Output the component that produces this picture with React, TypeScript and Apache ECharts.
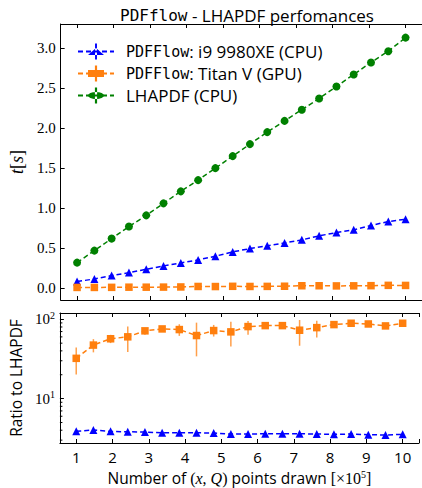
import React, { useEffect, useRef } from 'react';
import * as echarts from 'echarts';

// x positions (units of 1e5 points)
const xPoints = [1, 1.4737, 1.9474, 2.4211, 2.8947, 3.3684, 3.8421, 4.3158, 4.7895, 5.2632, 5.7368, 6.2105, 6.6842, 7.1579, 7.6316, 8.1053, 8.5789, 9.0526, 9.5263, 10];

// top panel: time in seconds
const timeCPU = [0.083, 0.116, 0.158, 0.195, 0.237, 0.279, 0.316, 0.354, 0.4, 0.454, 0.495, 0.529, 0.566, 0.604, 0.654, 0.695, 0.729, 0.783, 0.833, 0.862];
const timeGPU = [0.01, 0.01, 0.011, 0.013, 0.013, 0.014, 0.016, 0.022, 0.021, 0.024, 0.022, 0.023, 0.025, 0.031, 0.031, 0.029, 0.03, 0.032, 0.036, 0.035];
const timeLHAPDF = [0.32, 0.47, 0.62, 0.77, 0.91, 1.06, 1.21, 1.35, 1.5, 1.65, 1.8, 1.95, 2.09, 2.23, 2.37, 2.52, 2.67, 2.82, 2.96, 3.13];

// bottom panel: ratio to LHAPDF
const ratioCPU = [3.87, 4.02, 3.87, 3.82, 3.79, 3.72, 3.72, 3.72, 3.68, 3.58, 3.58, 3.61, 3.61, 3.61, 3.58, 3.55, 3.58, 3.51, 3.48, 3.55];
const ratioGPU = [32.2, 47.3, 56.8, 60.1, 71.5, 75.6, 74.2, 62.4, 72.1, 69.4, 80.9, 83.2, 83.2, 72.8, 78.5, 85.7, 89.1, 87.3, 82.5, 89.1];
const ratioGPULow = [20.1, 38.3, 50.1, 38.6, 63.7, 70, 61.8, 34.1, 60.6, 45.4, 63.7, 77.2, 77, 46.4, 58.9, 79, 81, 81, 77, 83];
const ratioGPUHigh = [44.2, 56.2, 63.7, 80.9, 77.2, 78, 86.6, 90.7, 84.9, 93.3, 95.2, 87.3, 89, 98, 96, 89, 96, 93, 87, 95];

const logMinorTicks = [3, 4, 5, 6, 7, 8, 9, 20, 30, 40, 50, 60, 70, 80, 90];

const legendNames = ['cpu', 'gpu', 'lhapdf'];
const legendLabels: Record<string, string> = {
  cpu: '{m|PDFFlow}{s|: i9 9980XE (CPU)}',
  gpu: '{m|PDFFlow}{s|: Titan V (GPU)}',
  lhapdf: '{s|LHAPDF (CPU)}',
};

const X_MIN = 0.55;
const X_MAX = 10.45;
const Y_MIN = -0.147;
const Y_MAX = 3.3;
const R_MIN = 2.76;
const R_MAX = 120;

const BLUE = '#0000ff';
const ORANGE = '#ff7f0e';
const GREEN = '#008000';

const SANS = "'Open Sans', 'DejaVu Sans', sans-serif";
const MONO = "'DejaVu Sans Mono', monospace";
const SERIF = "'Liberation Serif', 'DejaVu Serif', serif";

const BAR = 'M22,0 L28,0 L28,100 L22,100 Z';
const ICON_TRI = 'path://M0,72 L50,72 L25,28 Z ' + BAR;
const ICON_SQ = 'path://M3,28 L47,28 L47,72 L3,72 Z ' + BAR;
const ICON_CIRC = 'path://M3,50 A22,22 0 1,0 47,50 A22,22 0 1,0 3,50 Z ' + BAR;

const zip = (xs: number[], ys: number[]) => xs.map((x, i) => [x, ys[i]]);

const dash = [5, 3];

function buildOption(): any {
  const axisLine = { show: true, onZero: false, lineStyle: { color: '#000', width: 1 } };
  const tickIn = { show: true, inside: true, length: 4, lineStyle: { color: '#000', width: 1 } };
  const baseX = {
    type: 'value',
    min: X_MIN,
    max: X_MAX,
    splitNumber: 10,
    splitLine: { show: false },
    axisLine,
    axisTick: tickIn,
  };
  const isInt = (v: number) => Math.abs(v - Math.round(v)) < 1e-6;
  const isHalf = (v: number) => Math.abs(v * 2 - Math.round(v * 2)) < 1e-6;
  const isPow10 = (v: number) => {
    const l = Math.log10(v);
    return Math.abs(l - Math.round(l)) < 1e-6;
  };
  return {
    animation: false,
    backgroundColor: '#fff',
    title: {
      text: '{m|PDFflow}{s| - LHAPDF perfomances}',
      left: 242,
      textAlign: 'center',
      top: 2,
      textStyle: {
        fontWeight: 'normal',
        rich: {
          m: { fontFamily: MONO, fontSize: 16, color: '#000', fontWeight: 'normal' },
          s: { fontFamily: SANS, fontSize: 17, color: '#000', fontWeight: 'normal' },
        },
      },
    },
    legend: {
      orient: 'vertical',
      left: 72,
      top: 38,
      itemWidth: 36,
      itemHeight: 20,
      itemGap: 5,
      selectedMode: false,
      data: legendNames,
      formatter: (name: string) => legendLabels[name],
      textStyle: {
        padding: [0, 0, 0, 7],
        rich: {
          m: { fontFamily: MONO, fontSize: 15, color: '#000' },
          s: { fontFamily: SANS, fontSize: 17, color: '#000' },
        },
      },
    },
    grid: [
      { left: 57, top: 24, width: 370, height: 276 },
      { left: 57, top: 313, width: 370, height: 131 },
    ],
    xAxis: [
      { ...baseX, gridIndex: 0, position: 'bottom', axisLabel: { show: false } },
      { ...baseX, gridIndex: 0, position: 'top', axisLabel: { show: false } },
      {
        ...baseX,
        gridIndex: 1,
        position: 'bottom',
        axisLabel: {
          show: true,
          margin: 6,
          color: '#000',
          fontFamily: SANS,
          fontSize: 15,
          formatter: (v: number) => (isInt(v) && v >= 1 && v <= 10 ? String(Math.round(v)) : ''),
        },
        name: 'Number of {r|(}{i|x}{r|, }{i|Q}{r|)} points drawn {r|[×10}{sup|5}{r|]}',
        nameLocation: 'middle',
        nameGap: 26,
        nameTextStyle: {
          color: '#000',
          fontFamily: SANS,
          fontSize: 15.5,
          lineHeight: 18,
          rich: {
            r: { fontFamily: SERIF, fontSize: 16, color: '#000', lineHeight: 18 },
            i: { fontFamily: SERIF, fontStyle: 'italic', fontSize: 16, color: '#000', lineHeight: 18 },
            sup: { fontFamily: SERIF, fontSize: 10, color: '#000', verticalAlign: 'top', lineHeight: 12, padding: [0, 0, 6, 0] },
          },
        },
      },
      { ...baseX, gridIndex: 1, position: 'top', axisLabel: { show: false } },
    ],
    yAxis: [
      {
        type: 'value',
        gridIndex: 0,
        min: Y_MIN,
        max: Y_MAX,
        splitNumber: 6,
        splitLine: { show: false },
        axisLine,
        axisTick: tickIn,
        axisLabel: {
          margin: 5,
          color: '#000',
          fontFamily: SERIF,
          fontSize: 15,
          showMinLabel: false,
          showMaxLabel: false,
          formatter: (v: number) => (isHalf(v) && v >= 0 && v <= 3.01 ? v.toFixed(1) : ''),
        },
        name: '{i|t}{r|[}{i|s}{r|]}',
        nameLocation: 'middle',
        nameRotate: 90,
        nameGap: 26,
        nameTextStyle: {
          rich: {
            i: { fontFamily: SERIF, fontStyle: 'italic', fontSize: 18, color: '#000' },
            r: { fontFamily: SERIF, fontSize: 18, color: '#000' },
          },
        },
      },
      {
        type: 'log',
        gridIndex: 1,
        min: R_MIN,
        max: R_MAX,
        logBase: 10,
        splitLine: { show: false },
        axisLine,
        axisTick: tickIn,
        axisLabel: {
          margin: 5,
          color: '#000',
          showMinLabel: false,
          showMaxLabel: false,
          formatter: (v: number) => (isPow10(v) ? '{b|10}{e|' + Math.round(Math.log10(v)) + '}' : ''),
          rich: {
            b: { fontFamily: SERIF, fontSize: 15, color: '#000' },
            e: { fontFamily: SERIF, fontSize: 10, color: '#000', verticalAlign: 'top', padding: [0, 0, 8, 0] },
          },
        },
        name: 'Ratio to LHAPDF',
        nameLocation: 'middle',
        nameRotate: 90,
        nameGap: 32,
        nameTextStyle: { fontFamily: SANS, fontSize: 15.5, color: '#000' },
      },
    ],
    series: [
      // legend-only entries
      { name: 'cpu', type: 'line', xAxisIndex: 0, yAxisIndex: 0, data: [], color: BLUE, symbol: ICON_TRI, lineStyle: { type: dash, width: 1.5 } },
      { name: 'gpu', type: 'line', xAxisIndex: 0, yAxisIndex: 0, data: [], color: ORANGE, symbol: ICON_SQ, lineStyle: { type: dash, width: 1.5 } },
      { name: 'lhapdf', type: 'line', xAxisIndex: 0, yAxisIndex: 0, data: [], color: GREEN, symbol: ICON_CIRC, lineStyle: { type: dash, width: 1.5 } },
      // top panel
      {
        name: 'cpuTime', type: 'line', xAxisIndex: 0, yAxisIndex: 0, data: zip(xPoints, timeCPU),
        color: BLUE, symbol: 'triangle', symbolSize: 8, showAllSymbol: true, z: 3,
        lineStyle: { type: dash, width: 1.5 },
      },
      {
        name: 'gpuTime', type: 'line', xAxisIndex: 0, yAxisIndex: 0, data: zip(xPoints, timeGPU),
        color: ORANGE, symbol: 'rect', symbolSize: 7.5, showAllSymbol: true, z: 3,
        lineStyle: { type: dash, width: 1.5 },
      },
      {
        name: 'lhapdfTime', type: 'line', xAxisIndex: 0, yAxisIndex: 0, data: zip(xPoints, timeLHAPDF),
        color: GREEN, symbol: 'circle', symbolSize: 8, showAllSymbol: true, z: 3,
        lineStyle: { type: dash, width: 1.5 },
      },
      // bottom panel
      {
        name: 'gpuRatioErr', type: 'custom', xAxisIndex: 2, yAxisIndex: 1, z: 2,
        data: xPoints.map((x, i) => [x, ratioGPULow[i], ratioGPUHigh[i]]),
        renderItem: (params: any, api: any) => {
          const lo = api.coord([api.value(0), api.value(1)]);
          const hi = api.coord([api.value(0), api.value(2)]);
          return {
            type: 'line',
            shape: { x1: lo[0], y1: lo[1], x2: hi[0], y2: hi[1] },
            style: { stroke: 'rgba(255,127,14,0.75)', lineWidth: 1.5 },
          };
        },
      },
      {
        name: 'cpuRatio', type: 'line', xAxisIndex: 2, yAxisIndex: 1, data: zip(xPoints, ratioCPU),
        color: BLUE, symbol: 'triangle', symbolSize: 8, showAllSymbol: true, z: 3,
        lineStyle: { type: dash, width: 1.5 },
      },
      {
        name: 'gpuRatio', type: 'line', xAxisIndex: 2, yAxisIndex: 1, data: zip(xPoints, ratioGPU),
        color: ORANGE, symbol: 'rect', symbolSize: 7.5, showAllSymbol: true, z: 3,
        lineStyle: { type: dash, width: 1.5 },
      },
      {
        name: 'logMinor', type: 'custom', xAxisIndex: 2, yAxisIndex: 1, z: 4, silent: true,
        data: logMinorTicks.map((v) => [X_MIN, v]),
        renderItem: (params: any, api: any) => {
          const p = api.coord([api.value(0), api.value(1)]);
          return {
            type: 'line',
            shape: { x1: p[0], y1: p[1], x2: p[0] + 2.5, y2: p[1] },
            style: { stroke: '#000', lineWidth: 1 },
          };
        },
      },
    ],
  };
}

export default function App() {
  const ref = useRef<HTMLDivElement>(null);
  useEffect(() => {
    if (!ref.current) return;
    const chart = echarts.init(ref.current, undefined, { renderer: 'svg' });
    chart.setOption(buildOption());
    return () => chart.dispose();
  }, []);
  return (
    <div
      ref={ref}
      style={{ position: 'fixed', left: 0, top: 0, width: 422, height: 488, background: '#fff' }}
    />
  );
}
